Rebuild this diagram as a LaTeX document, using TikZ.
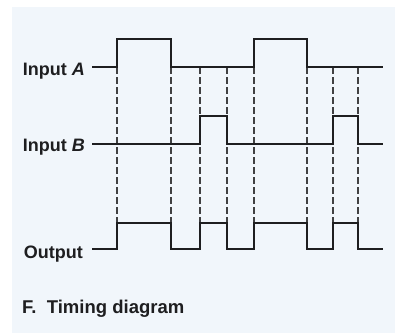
\documentclass[tikz,border=0pt]{standalone}
\usepackage{fontspec}
\setmainfont{Liberation Sans}
\definecolor{bg}{RGB}{241,246,251}
\definecolor{ink}{RGB}{30,30,32}
\begin{document}
\begin{tikzpicture}[x=1pt,y=-1pt,
  wave/.style={line width=2pt, line join=miter, ink},
  guide/.style={line width=1.5pt, dash pattern=on 6.5pt off 3.5pt, ink!85},
  lab/.style={anchor=base east, inner sep=0pt, text=ink, font=\fontsize{18}{20}\selectfont\bfseries}]
\fill[white] (0,0) rectangle (395,333);
\fill[bg] (12,7) rectangle (395,333);
\useasboundingbox (0,0) rectangle (395,333);
% guide lines
\foreach \x in {117,171,200,227,254,307,333,358}
  \draw[guide] (\x,67) -- (\x,223);
% labels
\node[lab] (la) at (85,75) {Input \textit{A}};
\node[lab] (lb) at (85,151) {Input \textit{B}};
\node[lab] (lo) at (83,258) {Output};
\node[anchor=base west, inner sep=0pt, text=ink, font=\fontsize{18.5}{20}\selectfont\bfseries] (cap) at (22,313) {F.\ \ Timing diagram};
% waveforms
\draw[wave] (92,67) -- (117,67) -- (117,39) -- (171,39) -- (171,67) -- (254,67) -- (254,39) -- (307,39) -- (307,67) -- (383,67);
\draw[wave] (92,144) -- (200,144) -- (200,116) -- (227,116) -- (227,144) -- (333,144) -- (333,116) -- (358,116) -- (358,144) -- (383,144);
\draw[wave] (92,249) -- (117,249) -- (117,223) -- (171,223) -- (171,249) -- (200,249) -- (200,223) -- (227,223) -- (227,249) -- (254,249) -- (254,223) -- (307,223) -- (307,249) -- (333,249) -- (333,223) -- (358,223) -- (358,249) -- (383,249);
\end{tikzpicture}
\end{document}
